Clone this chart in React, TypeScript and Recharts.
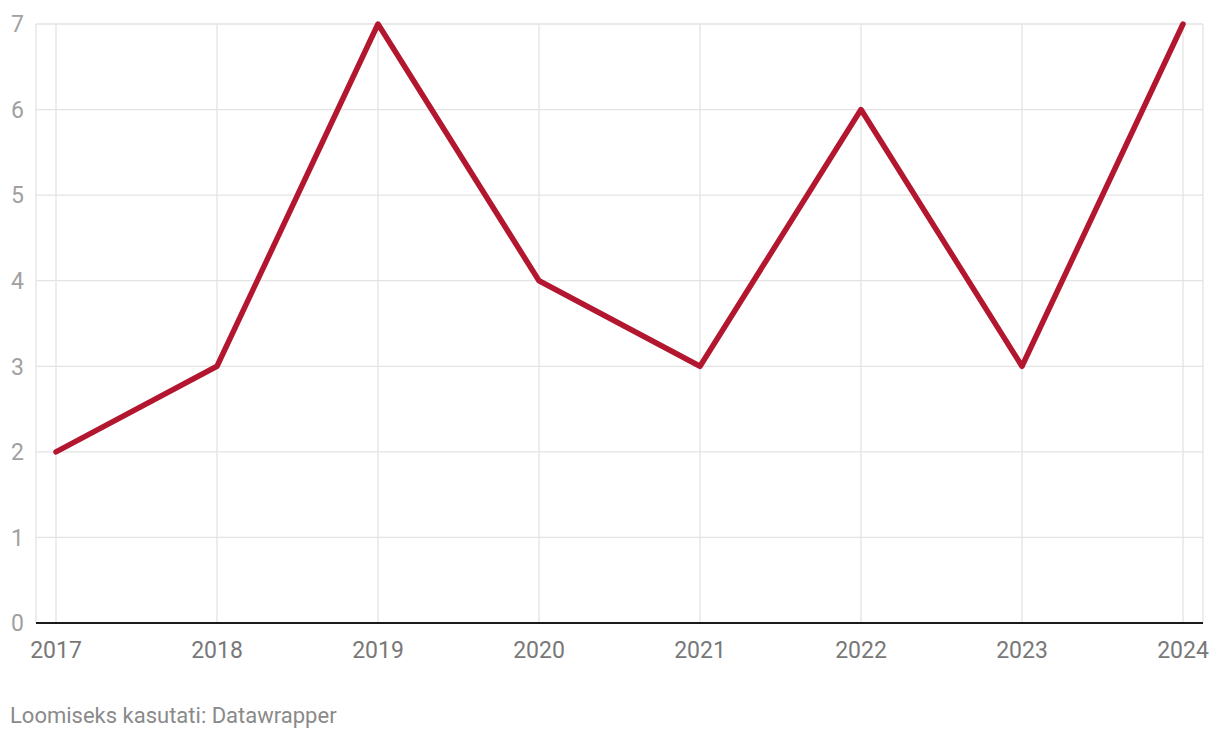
import React from "react";
import { LineChart, Line, XAxis, YAxis, CartesianGrid } from "recharts";

const years = [2017, 2018, 2019, 2020, 2021, 2022, 2023, 2024];
const values = [2, 3, 7, 4, 3, 6, 3, 7];
const yTicks = [0, 1, 2, 3, 4, 5, 6, 7];
const footer = "Loomiseks kasutati: Datawrapper";

const data = years.map((y, i) => ({ year: y, value: values[i] }));

const FONT = "Roboto, 'Noto Sans', sans-serif";

const XTick = (props: any) => {
  const { x, y, payload } = props;
  return (
    <text x={x} y={y + 35} textAnchor="middle" fill="#787878" fontSize={23} fontFamily={FONT}>
      {payload.value}
    </text>
  );
};

const YTick = (props: any) => {
  const { x, y, payload } = props;
  return (
    <text x={x - 12} y={y} dy="0.36em" textAnchor="end" fill="#a0a0a0" fontSize={23} fontFamily={FONT}>
      {payload.value}
    </text>
  );
};

export default function App() {
  return (
    <div style={{ position: "absolute", left: 0, top: 0, width: 1220, height: 740, background: "#fff" }}>
      <LineChart width={1220} height={740} data={data} margin={{ top: 24, right: 17, bottom: 77, left: 0 }}>
        <CartesianGrid stroke="#e3e3e3" strokeWidth={1.3} vertical={true} horizontal={true} />
        <XAxis
          dataKey="year"
          type="number"
          domain={[2017, 2024]}
          ticks={years}
          padding={{ left: 20, right: 20 }}
          axisLine={{ stroke: "#1a1a1a", strokeWidth: 2 }}
          tickLine={false}
          tickSize={0}
          tickMargin={0}
          height={40}
          tick={<XTick />}
          interval={0}
        />
        <YAxis
          domain={[0, 7]}
          ticks={yTicks}
          width={36}
          axisLine={false}
          tickLine={false}
          tickSize={0}
          tickMargin={0}
          tick={<YTick />}
          interval={0}
        />
        <Line
          type="linear"
          dataKey="value"
          stroke="#b3172f"
          strokeWidth={5.5}
          dot={false}
          isAnimationActive={false}
          strokeLinecap="round"
          strokeLinejoin="round"
        />
      </LineChart>
      <div
        style={{
          position: "absolute",
          left: 10,
          top: 703,
          fontFamily: FONT,
          fontSize: 22,
          lineHeight: "26px",
          color: "#8a8a8a",
          whiteSpace: "nowrap",
        }}
      >
        {footer}
      </div>
    </div>
  );
}
